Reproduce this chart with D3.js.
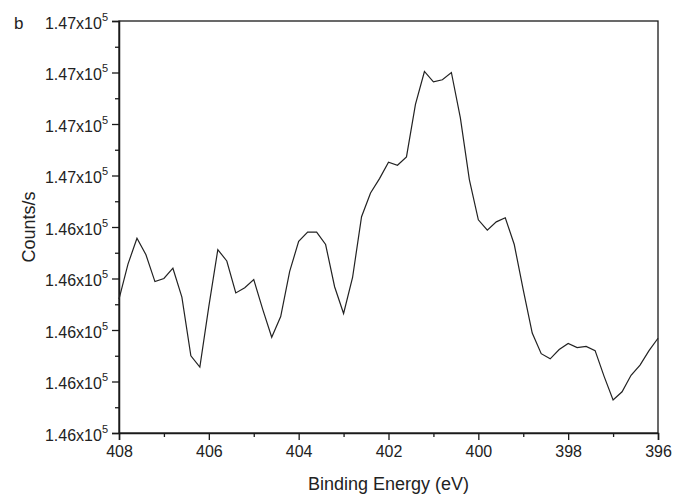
<!DOCTYPE html>
<html>
<head>
<meta charset="utf-8">
<script src="https://cdn.jsdelivr.net/npm/d3@7"></script>
<style>
  html, body { margin: 0; padding: 0; background: #fff; }
  svg { display: block; font-family: "Liberation Sans", Arial, Helvetica, sans-serif; }
</style>
</head>
<body>
<svg id="chart" width="674" height="497"></svg>
<script>
// ---- data ----
const bindingEnergy = d3.range(61).map(i => +(408 - 0.2 * i).toFixed(1));
const counts = [
  146430, 146464, 146489, 146473, 146447, 146450, 146460, 146432, 146375, 146364,
  146423, 146478, 146467, 146436, 146441, 146449, 146420, 146393, 146413, 146457,
  146486, 146495, 146495, 146483, 146442, 146416, 146451, 146510, 146533, 146547,
  146563, 146560, 146568, 146619, 146651, 146641, 146643, 146650, 146606, 146546,
  146507, 146497, 146505, 146509, 146483, 146439, 146397, 146377, 146372, 146381,
  146387, 146383, 146384, 146380, 146355, 146332, 146340, 146356, 146366, 146380,
  146392
];
const xTicks = [408, 406, 404, 402, 400, 398, 396];
const xMinorTicks = [407, 405, 403, 401, 399, 397];
const yTicks = [146300, 146350, 146400, 146450, 146500, 146550, 146600, 146650, 146700];
const yMinorTicks = [146325, 146375, 146425, 146475, 146525, 146575, 146625, 146675];
const yTickLabels = ["1.46", "1.46", "1.46", "1.46", "1.46", "1.47", "1.47", "1.47", "1.47"];
const xTitle = "Binding Energy (eV)";
const yTitle = "Counts/s";
const panelLabel = "b";

// ---- layout ----
const margin = { left: 119, right: 16, top: 21, bottom: 64 };
const W = 674, H = 497;
const svg = d3.select("#chart");
const x = d3.scaleLinear().domain([408, 396]).range([margin.left, W - margin.right]);
const y = d3.scaleLinear().domain([146300, 146700]).range([H - margin.bottom, margin.top]);

const axisColor = "#1a1a1a";

// frame (top & right)
svg.append("rect")
  .attr("x", x(408)).attr("y", y(146700))
  .attr("width", x(396) - x(408)).attr("height", y(146300) - y(146700))
  .attr("fill", "none").attr("stroke", axisColor).attr("stroke-width", 1.3);

// x axis
const xAxis = svg.append("g")
  .attr("transform", `translate(0,${y(146300)})`)
  .call(d3.axisBottom(x).tickValues(xTicks).tickSize(7).tickPadding(6).tickFormat(d3.format("d")));
xAxis.append("g").call(d3.axisBottom(x).tickValues(xMinorTicks).tickSize(4).tickFormat(""))
  .select(".domain").remove();
xAxis.selectAll("path.domain").attr("stroke", axisColor).attr("stroke-width", 1.5);
xAxis.selectAll("line").attr("stroke", axisColor).attr("stroke-width", 1.3);
xAxis.selectAll("text")
  .attr("font-size", 16).attr("fill", "#222")
  .attr("font-family", "'Liberation Sans', Arial, sans-serif");

// y axis
const yAxis = svg.append("g")
  .attr("transform", `translate(${x(408)},0)`)
  .call(d3.axisLeft(y).tickValues(yTicks).tickSize(7).tickPadding(11).tickFormat(""));
yAxis.append("g").call(d3.axisLeft(y).tickValues(yMinorTicks).tickSize(4).tickFormat(""))
  .select(".domain").remove();
yAxis.selectAll("path.domain").attr("stroke", axisColor).attr("stroke-width", 1.5);
yAxis.selectAll("line").attr("stroke", axisColor).attr("stroke-width", 1.3);

// y tick labels with superscript exponent
yAxis.selectAll("g.ylab")
  .data(yTicks)
  .join("text")
  .attr("class", "ylab")
  .attr("x", -11)
  .attr("y", d => y(d) + 7.5)
  .attr("text-anchor", "end")
  .attr("font-size", 16)
  .attr("fill", "#222")
  .each(function (d, i) {
    const t = d3.select(this);
    t.append("tspan").text(yTickLabels[i] + "x10");
    t.append("tspan").attr("font-size", 11).attr("dy", -8).text("5");
  });

// line
const line = d3.line()
  .x((d, i) => x(bindingEnergy[i]))
  .y(d => y(d));
svg.append("path")
  .datum(counts)
  .attr("d", line)
  .attr("fill", "none")
  .attr("stroke", "#222")
  .attr("stroke-width", 1.2)
  .attr("stroke-linejoin", "miter");

// titles
svg.append("text")
  .attr("x", (x(408) + x(396)) / 2)
  .attr("y", 490)
  .attr("text-anchor", "middle")
  .attr("font-size", 18)
  .attr("fill", "#222")
  .text(xTitle);

svg.append("text")
  .attr("transform", `translate(35,${(y(146300) + y(146700)) / 2}) rotate(-90)`)
  .attr("text-anchor", "middle")
  .attr("font-size", 18)
  .attr("fill", "#222")
  .text(yTitle);

svg.append("text")
  .attr("x", 14)
  .attr("y", 29)
  .attr("font-size", 17)
  .attr("fill", "#222")
  .text(panelLabel);
</script>
</body>
</html>
